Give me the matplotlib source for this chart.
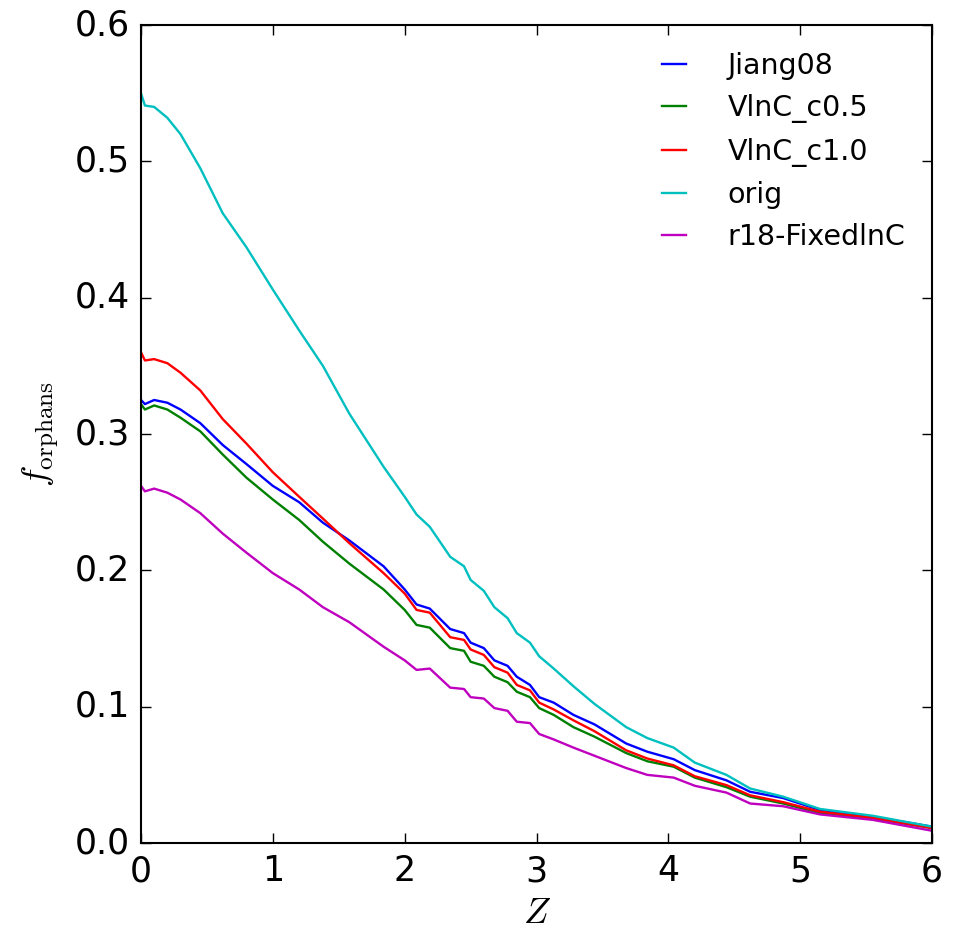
import matplotlib
matplotlib.use("Agg")
import matplotlib.pyplot as plt

plt.style.use('classic')
plt.rcParams['mathtext.fontset'] = 'cm'

# redshift grid
z = [0, 0.03, 0.1, 0.2, 0.3, 0.45, 0.62, 0.8, 1.0, 1.2, 1.38, 1.58, 1.84, 2.0,
     2.09, 2.19, 2.345, 2.45, 2.5, 2.6, 2.68, 2.78, 2.85, 2.95, 3.02, 3.13,
     3.28, 3.44, 3.68, 3.84, 4.04, 4.2, 4.44, 4.62, 4.87, 5.15, 5.55, 6.0]

jiang08 = [0.325, 0.322, 0.325, 0.323, 0.318, 0.308, 0.292, 0.278, 0.262, 0.25,
           0.235, 0.222, 0.203, 0.186, 0.175, 0.172, 0.157, 0.154, 0.147, 0.143,
           0.134, 0.13, 0.122, 0.116, 0.107, 0.103, 0.094, 0.087, 0.073, 0.067,
           0.0615, 0.0535, 0.046, 0.0376, 0.033, 0.0242, 0.0193, 0.012]

vlnc_c05 = [0.322, 0.318, 0.321, 0.318, 0.312, 0.302, 0.285, 0.268, 0.252, 0.237,
            0.221, 0.205, 0.186, 0.171, 0.16, 0.158, 0.143, 0.141, 0.133, 0.13,
            0.122, 0.118, 0.111, 0.107, 0.099, 0.094, 0.085, 0.078, 0.066, 0.06,
            0.056, 0.048, 0.041, 0.034, 0.029, 0.022, 0.018, 0.011]

vlnc_c10 = [0.36, 0.354, 0.355, 0.352, 0.345, 0.332, 0.311, 0.293, 0.272, 0.254,
            0.238, 0.22, 0.198, 0.183, 0.171, 0.169, 0.151, 0.149, 0.142, 0.138,
            0.129, 0.125, 0.116, 0.112, 0.103, 0.098, 0.09, 0.082, 0.068, 0.062,
            0.057, 0.049, 0.0425, 0.035, 0.030, 0.023, 0.0185, 0.011]

orig = [0.55, 0.541, 0.54, 0.532, 0.52, 0.495, 0.462, 0.437, 0.406, 0.376,
        0.35, 0.315, 0.276, 0.254, 0.241, 0.232, 0.21, 0.203, 0.193, 0.185,
        0.173, 0.165, 0.154, 0.147, 0.137, 0.128, 0.115, 0.102, 0.085, 0.077,
        0.07, 0.059, 0.05, 0.04, 0.034, 0.025, 0.02, 0.012]

r18_fixed = [0.262, 0.258, 0.26, 0.257, 0.252, 0.242, 0.227, 0.213, 0.198, 0.186,
             0.173, 0.162, 0.144, 0.134, 0.127, 0.128, 0.114, 0.113, 0.107, 0.106,
             0.099, 0.097, 0.089, 0.088, 0.08, 0.076, 0.07, 0.064, 0.055, 0.05,
             0.048, 0.042, 0.037, 0.029, 0.027, 0.021, 0.017, 0.009]

fig = plt.figure(figsize=(9.59, 9.30), dpi=100, facecolor='white')
ax = fig.add_axes([0.147, 0.0935, 0.825, 0.8795])

ax.plot(z, jiang08, color='b', lw=1.7, label='Jiang08')
ax.plot(z, vlnc_c05, color='g', lw=1.7, label='VlnC_c0.5')
ax.plot(z, vlnc_c10, color='r', lw=1.7, label='VlnC_c1.0')
ax.plot(z, orig, color='c', lw=1.7, label='orig')
ax.plot(z, r18_fixed, color='m', lw=1.7, label='r18-FixedlnC')

ax.set_xlim(0, 6)
ax.set_ylim(0, 0.6)
ax.set_xticks(range(7))
ax.set_yticks([0, 0.1, 0.2, 0.3, 0.4, 0.5, 0.6])
ax.tick_params(labelsize=25, length=7, width=1, pad=8)
for s in ax.spines.values():
    s.set_linewidth(1.5)

ax.set_xlabel(r'$Z$', fontsize=26, labelpad=6)
ax.set_ylabel(r'$f_{\rm orphans}$', fontsize=26, labelpad=10)

ax.legend(loc='upper right', bbox_to_anchor=(1.0, 1.0), frameon=False,
          fontsize=20.5, handlelength=1.45, handletextpad=1.15,
          borderaxespad=0.55)

fig.savefig('out.png', dpi=100, facecolor='white')
